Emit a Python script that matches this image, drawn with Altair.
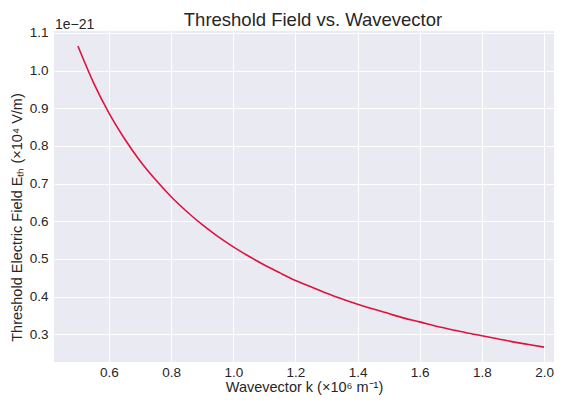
import altair as alt
import pandas as pd

# Wavevector k (x10^6 m^-1) and threshold field (in units of 1e-21, x10^4 V/m)
k_values = [0.50, 0.55, 0.60, 0.65, 0.70, 0.75, 0.80, 0.85, 0.90, 0.95, 1.00,
            1.05, 1.10, 1.15, 1.20, 1.25, 1.30, 1.35, 1.40, 1.45, 1.50,
            1.55, 1.60, 1.65, 1.70, 1.75, 1.80, 1.85, 1.90, 1.95, 2.00]
field_values = [1.065, 0.968, 0.887, 0.819, 0.760, 0.710, 0.665, 0.626, 0.591, 0.560, 0.532,
                0.507, 0.484, 0.463, 0.443, 0.426, 0.409, 0.394, 0.380, 0.367, 0.355,
                0.343, 0.333, 0.322, 0.313, 0.304, 0.296, 0.288, 0.280, 0.273, 0.266]
x_ticks = [0.6, 0.8, 1.0, 1.2, 1.4, 1.6, 1.8, 2.0]
y_ticks = [0.3, 0.4, 0.5, 0.6, 0.7, 0.8, 0.9, 1.0, 1.1]

df = pd.DataFrame({"k": k_values, "E": field_values})

FONT = "Liberation Sans"
TXT = "#262626"

line = alt.Chart(df).mark_line(color="#DC143C", strokeWidth=1.6, interpolate="monotone").encode(
    x=alt.X("k:Q", scale=alt.Scale(domain=[0.423, 2.032], nice=False, zero=False),
            axis=alt.Axis(values=x_ticks, format=".1f", title="Wavevector k (×10⁶ m⁻¹)",
                          titlePadding=2, labelPadding=3)),
    y=alt.Y("E:Q", scale=alt.Scale(domain=[0.2265, 1.105], nice=False, zero=False),
            axis=alt.Axis(values=y_ticks, format=".1f", labelPadding=6,
                          title="Threshold Electric Field Eₜₕ (×10⁴ V/m)",
                          titleX=-37, titleY=186, titleBaseline="middle")),
)

offset_text = alt.Chart(pd.DataFrame({"t": ["1e−21"]})).mark_text(
    align="left", baseline="alphabetic", font=FONT, fontSize=14, color=TXT
).encode(text="t:N", x=alt.value(1), y=alt.value(-2))

title_text = alt.Chart(pd.DataFrame({"t": ["Threshold Field vs. Wavevector"]})).mark_text(
    align="center", baseline="alphabetic", font=FONT, fontSize=18.5, color=TXT
).encode(text="t:N", x=alt.value(259), y=alt.value(-5))

chart = alt.layer(line, offset_text, title_text).properties(
    width=500, height=331,
    autosize=alt.AutoSizeParams(type="none"),
    padding={"left": 46, "top": 23, "right": 0, "bottom": 35},
).configure_view(stroke=None, fill="#EAEAF2").configure_axis(
    grid=True, gridColor="white", gridWidth=1, domain=False, ticks=False,
    labelFont=FONT, labelFontSize=13.5, labelColor=TXT,
    titleFont=FONT, titleFontSize=14.5, titleFontWeight="normal", titleColor=TXT,
)

chart.save("out.html", embed_options={"renderer": "svg", "actions": False})
